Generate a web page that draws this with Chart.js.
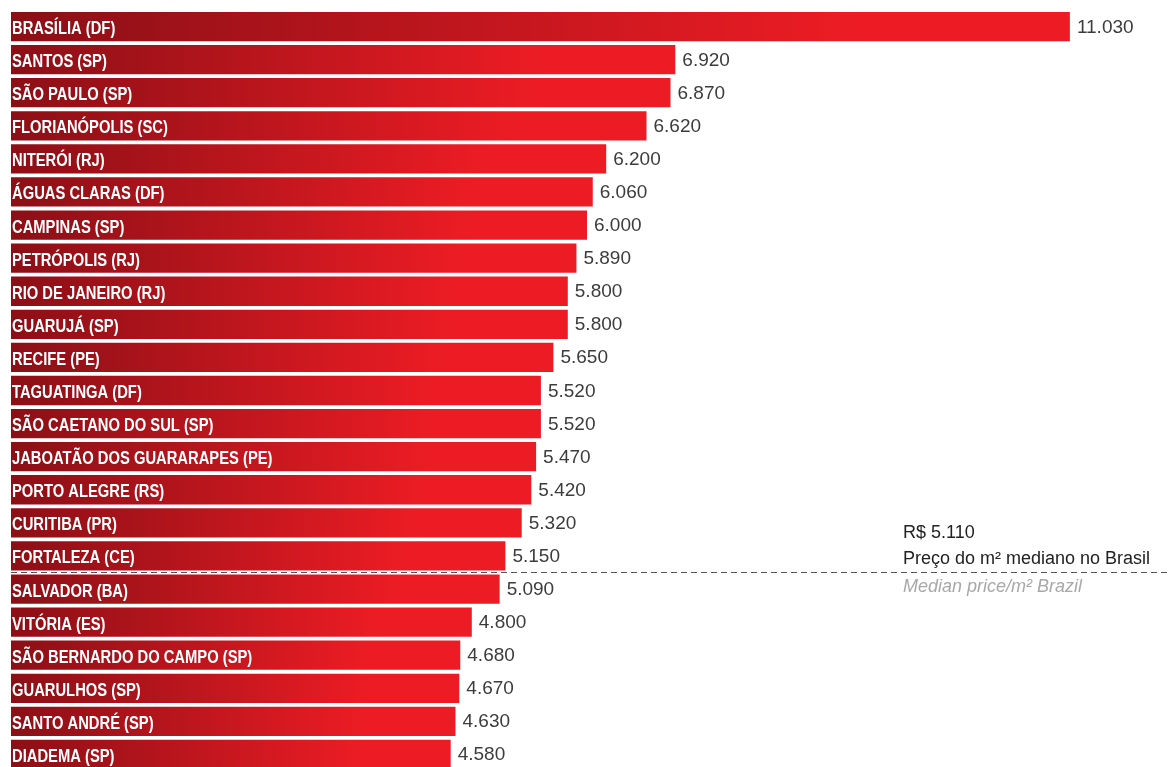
<!DOCTYPE html>
<html>
<head>
<meta charset="utf-8">
<script src="https://cdn.jsdelivr.net/npm/chart.js@4.4.1/dist/chart.umd.min.js"></script>
<style>
  html, body { margin: 0; padding: 0; background: #fff; overflow: hidden; }
  #wrap { position: relative; width: 1168px; height: 780px; }
</style>
</head>
<body>
<div id="wrap"><canvas id="chart"></canvas></div>
<script>
// cidades e preço mediano do m² (R$)
const cities = [
  "BRASÍLIA (DF)", "SANTOS (SP)", "SÃO PAULO (SP)", "FLORIANÓPOLIS (SC)",
  "NITERÓI (RJ)", "ÁGUAS CLARAS (DF)", "CAMPINAS (SP)", "PETRÓPOLIS (RJ)",
  "RIO DE JANEIRO (RJ)", "GUARUJÁ (SP)", "RECIFE (PE)", "TAGUATINGA (DF)",
  "SÃO CAETANO DO SUL (SP)", "JABOATÃO DOS GUARARAPES (PE)", "PORTO ALEGRE (RS)",
  "CURITIBA (PR)", "FORTALEZA (CE)", "SALVADOR (BA)", "VITÓRIA (ES)",
  "SÃO BERNARDO DO CAMPO (SP)", "GUARULHOS (SP)", "SANTO ANDRÉ (SP)", "DIADEMA (SP)"
];
const prices = [
  11030, 6920, 6870, 6620, 6200, 6060, 6000, 5890, 5800, 5800, 5650, 5520,
  5520, 5470, 5420, 5320, 5150, 5090, 4800, 4680, 4670, 4630, 4580
];
const medianPrice = 5110;
const medianTexts = ["R$ 5.110", "Preço do m² mediano no Brasil", "Median price/m² Brazil"];

const fmt = v => v.toLocaleString("de-DE");

function barGradient(context) {
  const chart = context.chart;
  const area = chart.chartArea;
  if (!area) { return "#ed1c24"; }
  const xs = chart.scales.x;
  const x0 = xs.getPixelForValue(0);
  const x1 = xs.getPixelForValue(context.raw);
  const g = chart.ctx.createLinearGradient(x0, 0, x1, 0);
  g.addColorStop(0, "#8c0f16");
  g.addColorStop(0.8, "#ed1c24");
  g.addColorStop(1, "#ed1c24");
  return g;
}

function drawText(ctx, text, x, y, font, color, sx) {
  ctx.save();
  ctx.font = font;
  ctx.fillStyle = color;
  ctx.textBaseline = "alphabetic";
  ctx.translate(x, y);
  ctx.scale(sx, 1);
  ctx.fillText(text, 0, 0);
  ctx.restore();
}

// rótulos dentro/fora das barras + linha da mediana
const labelsPlugin = {
  id: "labels",
  afterDatasetsDraw(chart) {
    const ctx = chart.ctx;
    const meta = chart.getDatasetMeta(0);
    const ys = chart.scales.y;
    ctx.save();
    meta.data.forEach((bar, i) => {
      // nome da cidade, branco, condensado
      drawText(ctx, cities[i], bar.base + 1, bar.y + 7.5,
        "bold 18px 'Liberation Sans', Arial, sans-serif", "#ffffff", 0.82);
      // valor
      drawText(ctx, fmt(prices[i]), bar.x + 7, bar.y + 6,
        "19px 'Liberation Sans', Arial, sans-serif", "#3c3c3c", 1);
    });

    // linha tracejada da mediana (entre a última cidade acima e a primeira abaixo)
    const idx = prices.findIndex(p => p < medianPrice);
    const yLine = Math.round((ys.getPixelForValue(idx - 1) + ys.getPixelForValue(idx)) / 2) + 0.5;
    ctx.strokeStyle = "#555";
    ctx.lineWidth = 1;
    ctx.setLineDash([6, 4]);
    ctx.beginPath();
    ctx.moveTo(chart.chartArea.left, yLine);
    ctx.lineTo(chart.width, yLine);
    ctx.stroke();
    ctx.setLineDash([]);

    const tx = 903;
    drawText(ctx, medianTexts[0], tx, yLine - 35, "18px 'Liberation Sans', Arial, sans-serif", "#222", 1);
    drawText(ctx, medianTexts[1], tx, yLine - 9, "18px 'Liberation Sans', Arial, sans-serif", "#222", 1);
    drawText(ctx, medianTexts[2], tx, yLine + 19, "italic 18px 'Liberation Sans', Arial, sans-serif", "#a8a8a8", 1);
    ctx.restore();
  }
};

new Chart(document.getElementById("chart"), {
  type: "bar",
  data: {
    labels: cities,
    datasets: [{
      data: prices,
      backgroundColor: barGradient,
      borderWidth: 0,
      barPercentage: 0.885,
      categoryPercentage: 1
    }]
  },
  options: {
    indexAxis: "y",
    responsive: true,
    maintainAspectRatio: false,
    animation: false,
    layout: { padding: { left: 11, right: 5, top: 10, bottom: 9 } },
    scales: {
      x: { display: false, min: 0, max: 12000 },
      y: { display: false }
    },
    plugins: {
      legend: { display: false },
      tooltip: { enabled: false }
    }
  },
  plugins: [labelsPlugin]
});
</script>
</body>
</html>
